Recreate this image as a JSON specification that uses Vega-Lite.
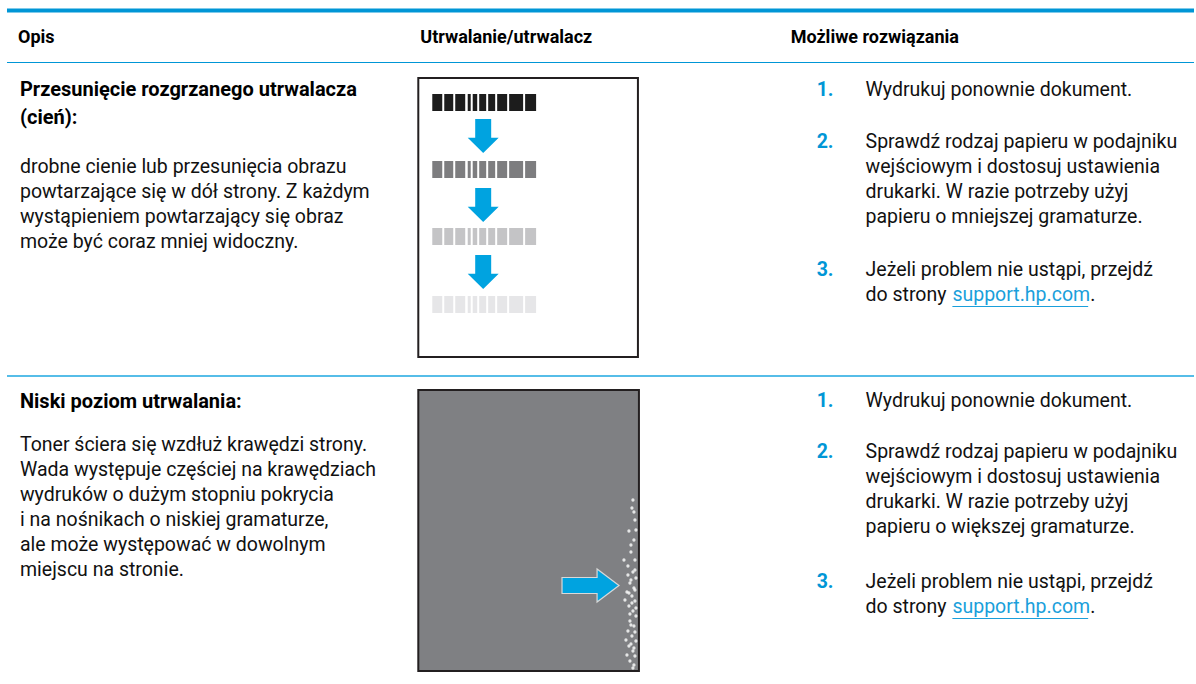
{
  "$schema": "https://vega.github.io/schema/vega-lite/v6.json",
  "width": 1196,
  "height": 684,
  "autosize": {"type": "fit", "contains": "padding"},
  "padding": 0,
  "background": "white",
  "view": {"stroke": null},
  "config": {"text": {"font": "Roboto", "color": "#111111"}},
  "datasets": {
    "thick": [
      {"x": 7, "x2": 1196, "y": 10.5, "w": 5},
      {"x": 7, "x2": 1196, "y": 62.5, "w": 4}
    ],
    "thin": [{"x": 7, "x2": 1196, "y": 376}],
    "headers": [
      {"x": 18, "y": 38, "t": "Opis"},
      {"x": 421, "y": 38, "t": "Utrwalanie/utrwalacz"},
      {"x": 792, "y": 38, "t": "Możliwe rozwiązania"}
    ],
    "titles": [
      {"x": 20, "y": 90, "t": "Przesunięcie rozgrzanego utrwalacza"},
      {"x": 20, "y": 118, "t": "(cień):"},
      {"x": 20, "y": 402, "t": "Niski poziom utrwalania:"}
    ],
    "body": [
      {"x": 20, "y": 167, "t": "drobne cienie lub przesunięcia obrazu"},
      {"x": 20, "y": 192, "t": "powtarzające się w dół strony. Z każdym"},
      {"x": 20, "y": 217, "t": "wystąpieniem powtarzający się obraz"},
      {"x": 20, "y": 242, "t": "może być coraz mniej widoczny."},
      {"x": 20, "y": 445, "t": "Toner ściera się wzdłuż krawędzi strony."},
      {"x": 20, "y": 470, "t": "Wada występuje częściej na krawędziach"},
      {"x": 20, "y": 495, "t": "wydruków o dużym stopniu pokrycia"},
      {"x": 20, "y": 520, "t": "i na nośnikach o niskiej gramaturze,"},
      {"x": 20, "y": 545, "t": "ale może występować w dowolnym"},
      {"x": 20, "y": 570, "t": "miejscu na stronie."},
      {"x": 867, "y": 90, "t": "Wydrukuj ponownie dokument."},
      {"x": 867, "y": 142, "t": "Sprawdź rodzaj papieru w podajniku"},
      {"x": 867, "y": 167, "t": "wejściowym i dostosuj ustawienia"},
      {"x": 867, "y": 192, "t": "drukarki. W razie potrzeby użyj"},
      {"x": 867, "y": 217, "t": "papieru o mniejszej gramaturze."},
      {"x": 867, "y": 270, "t": "Jeżeli problem nie ustąpi, przejdź"},
      {"x": 867, "y": 295, "t": "do strony"},
      {"x": 1092, "y": 295, "t": "."},
      {"x": 867, "y": 401, "t": "Wydrukuj ponownie dokument."},
      {"x": 867, "y": 452, "t": "Sprawdź rodzaj papieru w podajniku"},
      {"x": 867, "y": 477, "t": "wejściowym i dostosuj ustawienia"},
      {"x": 867, "y": 502, "t": "drukarki. W razie potrzeby użyj"},
      {"x": 867, "y": 527, "t": "papieru o większej gramaturze."},
      {"x": 867, "y": 582, "t": "Jeżeli problem nie ustąpi, przejdź"},
      {"x": 867, "y": 607, "t": "do strony"},
      {"x": 1092, "y": 607, "t": "."}
    ],
    "nums": [
      {"x": 818, "y": 90, "t": "1."},
      {"x": 818, "y": 142, "t": "2."},
      {"x": 818, "y": 270, "t": "3."},
      {"x": 818, "y": 401, "t": "1."},
      {"x": 818, "y": 452, "t": "2."},
      {"x": 818, "y": 582, "t": "3."}
    ],
    "links": [
      {"x": 954, "y": 295, "t": "support.hp.com"},
      {"x": 954, "y": 607, "t": "support.hp.com"}
    ],
    "underlines": [
      {"x": 954, "x2": 1090, "y": 306.5},
      {"x": 954, "x2": 1090, "y": 618.5}
    ],
    "page1": [{"x": 419, "x2": 639, "y": 78, "y2": 357}],
    "page2": [{"x": 419, "x2": 640, "y": 390, "y2": 671}],
    "bars": [
      {"x": 433, "x2": 443, "y": 94, "y2": 111, "lvl": 1},
      {"x": 445, "x2": 454, "y": 94, "y2": 111, "lvl": 1},
      {"x": 456, "x2": 466, "y": 94, "y2": 111, "lvl": 1},
      {"x": 468.5, "x2": 471.5, "y": 94, "y2": 111, "lvl": 1},
      {"x": 473.5, "x2": 478, "y": 94, "y2": 111, "lvl": 1},
      {"x": 480, "x2": 487, "y": 94, "y2": 111, "lvl": 1},
      {"x": 489, "x2": 496, "y": 94, "y2": 111, "lvl": 1},
      {"x": 498, "x2": 508, "y": 94, "y2": 111, "lvl": 1},
      {"x": 510, "x2": 524, "y": 94, "y2": 111, "lvl": 1},
      {"x": 526, "x2": 537, "y": 94, "y2": 111, "lvl": 1},
      {"x": 433, "x2": 443, "y": 161, "y2": 178, "lvl": 2},
      {"x": 445, "x2": 454, "y": 161, "y2": 178, "lvl": 2},
      {"x": 456, "x2": 466, "y": 161, "y2": 178, "lvl": 2},
      {"x": 468.5, "x2": 471.5, "y": 161, "y2": 178, "lvl": 2},
      {"x": 473.5, "x2": 478, "y": 161, "y2": 178, "lvl": 2},
      {"x": 480, "x2": 487, "y": 161, "y2": 178, "lvl": 2},
      {"x": 489, "x2": 496, "y": 161, "y2": 178, "lvl": 2},
      {"x": 498, "x2": 508, "y": 161, "y2": 178, "lvl": 2},
      {"x": 510, "x2": 524, "y": 161, "y2": 178, "lvl": 2},
      {"x": 526, "x2": 537, "y": 161, "y2": 178, "lvl": 2},
      {"x": 433, "x2": 443, "y": 228, "y2": 245, "lvl": 3},
      {"x": 445, "x2": 454, "y": 228, "y2": 245, "lvl": 3},
      {"x": 456, "x2": 466, "y": 228, "y2": 245, "lvl": 3},
      {"x": 468.5, "x2": 471.5, "y": 228, "y2": 245, "lvl": 3},
      {"x": 473.5, "x2": 478, "y": 228, "y2": 245, "lvl": 3},
      {"x": 480, "x2": 487, "y": 228, "y2": 245, "lvl": 3},
      {"x": 489, "x2": 496, "y": 228, "y2": 245, "lvl": 3},
      {"x": 498, "x2": 508, "y": 228, "y2": 245, "lvl": 3},
      {"x": 510, "x2": 524, "y": 228, "y2": 245, "lvl": 3},
      {"x": 526, "x2": 537, "y": 228, "y2": 245, "lvl": 3},
      {"x": 433, "x2": 443, "y": 296, "y2": 313, "lvl": 4},
      {"x": 445, "x2": 454, "y": 296, "y2": 313, "lvl": 4},
      {"x": 456, "x2": 466, "y": 296, "y2": 313, "lvl": 4},
      {"x": 468.5, "x2": 471.5, "y": 296, "y2": 313, "lvl": 4},
      {"x": 473.5, "x2": 478, "y": 296, "y2": 313, "lvl": 4},
      {"x": 480, "x2": 487, "y": 296, "y2": 313, "lvl": 4},
      {"x": 489, "x2": 496, "y": 296, "y2": 313, "lvl": 4},
      {"x": 498, "x2": 508, "y": 296, "y2": 313, "lvl": 4},
      {"x": 510, "x2": 524, "y": 296, "y2": 313, "lvl": 4},
      {"x": 526, "x2": 537, "y": 296, "y2": 313, "lvl": 4}
    ],
    "down": [
      {"x": 484, "y": 136},
      {"x": 484, "y": 205},
      {"x": 484, "y": 272}
    ],
    "right": [{"x": 591.5, "y": 585.5}],
    "specks": [
      {"x": 633, "y": 508}, {"x": 636, "y": 520}, {"x": 630, "y": 531},
      {"x": 635, "y": 540}, {"x": 632, "y": 552}, {"x": 636, "y": 560},
      {"x": 629, "y": 566}, {"x": 634, "y": 572}, {"x": 637, "y": 578},
      {"x": 631, "y": 583}, {"x": 635, "y": 588}, {"x": 628, "y": 592},
      {"x": 633, "y": 596}, {"x": 636, "y": 601}, {"x": 630, "y": 606},
      {"x": 634, "y": 611}, {"x": 637, "y": 616}, {"x": 631, "y": 621},
      {"x": 635, "y": 626}, {"x": 629, "y": 631}, {"x": 633, "y": 636},
      {"x": 637, "y": 641}, {"x": 630, "y": 646}, {"x": 634, "y": 651},
      {"x": 636, "y": 656}, {"x": 631, "y": 661}, {"x": 635, "y": 665},
      {"x": 627, "y": 640}, {"x": 626, "y": 600}, {"x": 629, "y": 575},
      {"x": 625, "y": 560}, {"x": 637, "y": 530}, {"x": 632, "y": 545},
      {"x": 636, "y": 590}, {"x": 628, "y": 655}, {"x": 632, "y": 580},
      {"x": 633, "y": 603}, {"x": 631, "y": 614}, {"x": 636, "y": 632},
      {"x": 632, "y": 644}, {"x": 634, "y": 668}, {"x": 630, "y": 593},
      {"x": 637, "y": 608}, {"x": 635, "y": 648}, {"x": 632, "y": 625},
      {"x": 636, "y": 570}, {"x": 634, "y": 500}, {"x": 635, "y": 512}
    ]
  },
  "layer": [
    {
      "data": {"name": "thick"},
      "mark": {"type": "rule", "color": "#0096d6"},
      "encoding": {
        "x": {"field": "x", "type": "quantitative", "scale": {"domain": [0, 1196], "nice": false, "zero": false}, "axis": null},
        "x2": {"field": "x2"},
        "y": {"field": "y", "type": "quantitative", "scale": {"domain": [0, 684], "nice": false, "zero": false, "reverse": true}, "axis": null},
        "strokeWidth": {"field": "w", "type": "quantitative", "scale": {"type": "identity"}, "legend": null}
      }
    },
    {
      "data": {"name": "thin"},
      "mark": {"type": "rule", "color": "#1ea7e1", "strokeWidth": 1.5},
      "encoding": {
        "x": {"field": "x", "type": "quantitative"},
        "x2": {"field": "x2"},
        "y": {"field": "y", "type": "quantitative"}
      }
    },
    {
      "data": {"name": "page1"},
      "mark": {"type": "rect", "fill": "white", "stroke": "#231f20", "strokeWidth": 2},
      "encoding": {
        "x": {"field": "x", "type": "quantitative"},
        "x2": {"field": "x2"},
        "y": {"field": "y", "type": "quantitative"},
        "y2": {"field": "y2"}
      }
    },
    {
      "data": {"name": "page2"},
      "mark": {"type": "rect", "fill": "#7f8083", "stroke": "#231f20", "strokeWidth": 2},
      "encoding": {
        "x": {"field": "x", "type": "quantitative"},
        "x2": {"field": "x2"},
        "y": {"field": "y", "type": "quantitative"},
        "y2": {"field": "y2"}
      }
    },
    {
      "data": {"name": "bars"},
      "mark": {"type": "rect"},
      "encoding": {
        "x": {"field": "x", "type": "quantitative"},
        "x2": {"field": "x2"},
        "y": {"field": "y", "type": "quantitative"},
        "y2": {"field": "y2"},
        "color": {"field": "lvl", "type": "ordinal", "scale": {"domain": [1, 2, 3, 4], "range": ["#1c1c1c", "#7d7d7f", "#c4c4c6", "#e6e6e8"]}, "legend": null}
      }
    },
    {
      "data": {"name": "down"},
      "mark": {"type": "point", "filled": true, "opacity": 1, "fill": "#00a3e0", "strokeWidth": 0, "size": 1156, "shape": "M-0.47,-1 L0.47,-1 L0.47,0.1 L0.91,0.1 L0,1 L-0.91,0.1 L-0.47,0.1 Z"},
      "encoding": {
        "x": {"field": "x", "type": "quantitative"},
        "y": {"field": "y", "type": "quantitative"}
      }
    },
    {
      "data": {"name": "specks"},
      "mark": {"type": "circle", "fill": "white", "opacity": 0.8, "size": 11},
      "encoding": {
        "x": {"field": "x", "type": "quantitative"},
        "y": {"field": "y", "type": "quantitative"}
      }
    },
    {
      "data": {"name": "right"},
      "mark": {"type": "point", "filled": true, "opacity": 1, "fill": "#00a3e0", "stroke": "#d9d9d9", "strokeWidth": 1.2, "size": 3249, "shape": "M-1,-0.28 L0.23,-0.28 L0.23,-0.58 L1,0 L0.23,0.58 L0.23,0.28 L-1,0.28 Z"},
      "encoding": {
        "x": {"field": "x", "type": "quantitative"},
        "y": {"field": "y", "type": "quantitative"}
      }
    },
    {
      "data": {"name": "headers"},
      "mark": {"type": "text", "align": "left", "baseline": "middle", "fontSize": 18, "fontWeight": "bold", "color": "#000000"},
      "encoding": {
        "x": {"field": "x", "type": "quantitative"},
        "y": {"field": "y", "type": "quantitative"},
        "text": {"field": "t"}
      }
    },
    {
      "data": {"name": "titles"},
      "mark": {"type": "text", "align": "left", "baseline": "middle", "fontSize": 20, "fontWeight": "bold", "color": "#000000"},
      "encoding": {
        "x": {"field": "x", "type": "quantitative"},
        "y": {"field": "y", "type": "quantitative"},
        "text": {"field": "t"}
      }
    },
    {
      "data": {"name": "body"},
      "mark": {"type": "text", "align": "left", "baseline": "middle", "fontSize": 19.5},
      "encoding": {
        "x": {"field": "x", "type": "quantitative"},
        "y": {"field": "y", "type": "quantitative"},
        "text": {"field": "t"}
      }
    },
    {
      "data": {"name": "nums"},
      "mark": {"type": "text", "align": "left", "baseline": "middle", "fontSize": 19.5, "fontWeight": "bold", "color": "#0096d6"},
      "encoding": {
        "x": {"field": "x", "type": "quantitative"},
        "y": {"field": "y", "type": "quantitative"},
        "text": {"field": "t"}
      }
    },
    {
      "data": {"name": "links"},
      "mark": {"type": "text", "align": "left", "baseline": "middle", "fontSize": 19.5, "color": "#1a9fdb"},
      "encoding": {
        "x": {"field": "x", "type": "quantitative"},
        "y": {"field": "y", "type": "quantitative"},
        "text": {"field": "t"}
      }
    },
    {
      "data": {"name": "underlines"},
      "mark": {"type": "rule", "color": "#1a9fdb", "strokeWidth": 1},
      "encoding": {
        "x": {"field": "x", "type": "quantitative"},
        "x2": {"field": "x2"},
        "y": {"field": "y", "type": "quantitative"}
      }
    }
  ]
}
